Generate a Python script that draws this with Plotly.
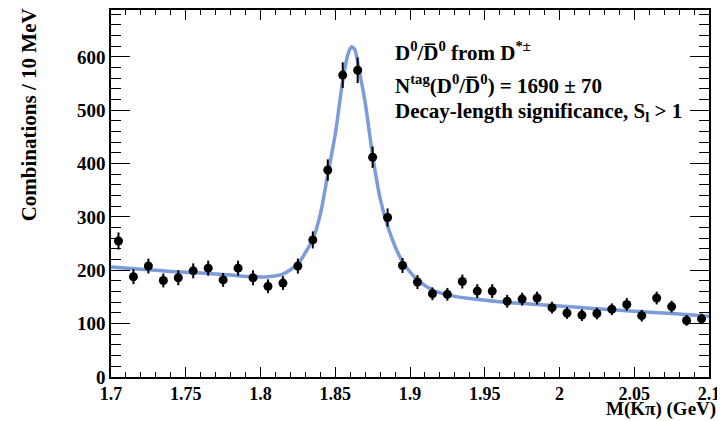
import plotly.graph_objects as go

# Data: bin centres (GeV) and counts per 10 MeV
mass = [1.705, 1.715, 1.725, 1.735, 1.745, 1.755, 1.765, 1.775, 1.785, 1.795,
        1.805, 1.815, 1.825, 1.835, 1.845, 1.855, 1.865, 1.875, 1.885, 1.895,
        1.905, 1.915, 1.925, 1.935, 1.945, 1.955, 1.965, 1.975, 1.985, 1.995,
        2.005, 2.015, 2.025, 2.035, 2.045, 2.055, 2.065, 2.075, 2.085, 2.095]
counts = [255, 188, 208, 181, 186, 199, 204, 182, 204, 186,
          170, 176, 208, 257, 388, 566, 575, 412, 299, 209,
          178, 156, 155, 179, 161, 161, 142, 146, 148, 130,
          120, 116, 119, 127, 136, 115, 148, 132, 106, 109]
errors = [16, 14, 14, 13, 14, 14, 14, 13, 14, 14,
          13, 13, 14, 16, 20, 24, 24, 20, 17, 14,
          13, 12, 12, 13, 13, 13, 12, 12, 12, 11,
          11, 11, 11, 11, 12, 11, 12, 11, 10, 10]

# Fit curve
fit_mass = [1.700, 1.720, 1.740, 1.760, 1.780, 1.795, 1.805, 1.815, 1.825, 1.830,
            1.835, 1.840, 1.845, 1.850, 1.855, 1.8585, 1.861, 1.863, 1.866, 1.870,
            1.875, 1.880, 1.885, 1.890, 1.895, 1.900, 1.905, 1.915, 1.925, 1.940,
            1.960, 1.980, 2.000, 2.020, 2.040, 2.060, 2.080, 2.100]
fit_counts = [206, 202, 198, 195, 191, 188, 188, 193, 212, 233,
              258, 305, 380, 455, 555, 605, 619, 614, 575, 515,
              415, 335, 283, 245, 216, 197, 182, 163, 154, 147,
              141, 137, 133, 129, 125, 121.5, 118, 114]

x_tick_vals = [1.7, 1.75, 1.8, 1.85, 1.9, 1.95, 2.0, 2.05, 2.1]
x_tick_text = ["1.7", "1.75", "1.8", "1.85", "1.9", "1.95", "2", "2.05", "2.1"]
y_tick_vals = [0, 100, 200, 300, 400, 500, 600]

FONT = "Liberation Serif"

fig = go.Figure()
fig.add_trace(go.Scatter(
    x=fit_mass, y=fit_counts, mode="lines",
    line=dict(color="#7b9cd9", width=3.5, shape="spline", smoothing=0.8),
    hoverinfo="skip", showlegend=False))
fig.add_trace(go.Scatter(
    x=mass, y=counts, mode="markers",
    marker=dict(color="black", size=9),
    error_y=dict(type="data", array=errors, color="black", thickness=2, width=0),
    showlegend=False))

axis_common = dict(
    showline=True, linecolor="black", linewidth=1.5, mirror="allticks",
    ticks="inside", tickcolor="black", tickwidth=1.2,
    showgrid=False, zeroline=False,
)

fig.update_xaxes(range=[1.7, 2.1], tickvals=x_tick_vals, ticktext=x_tick_text,
                 ticklen=10,
                 tickfont=dict(family=FONT, size=18, color="black", weight="bold"),
                 minor=dict(ticks="inside", dtick=0.01, ticklen=5, tickcolor="black", tickwidth=1.2),
                 **axis_common)
fig.update_yaxes(range=[0, 688], tickvals=y_tick_vals, ticklen=19,
                 tickfont=dict(family=FONT, size=19, color="black", weight="bold"),
                 minor=dict(ticks="inside", dtick=20, ticklen=10, tickcolor="black", tickwidth=1.2),
                 **axis_common)

txt_font = dict(family=FONT, size=21, color="black", weight="bold")
ann = [
    dict(text="D<sup>0</sup>/D\u0305<sup>0</sup> from D<sup>*\u00b1</sup>",
         x=0.471, y=0.8865, xanchor="left", yanchor="middle"),
    dict(text="N<sup>tag</sup>(D<sup>0</sup>/D\u0305<sup>0</sup>) = 1690 \u00b1 70",
         x=0.471, y=0.797, xanchor="left", yanchor="middle"),
    dict(text="Decay-length significance, S<sub>l</sub> &gt; 1",
         x=0.471, y=0.722, xanchor="left", yanchor="middle"),
]
for a in ann:
    fig.add_annotation(xref="paper", yref="paper", showarrow=False, font=txt_font, **a)

fig.add_annotation(text="Combinations / 10 MeV", xref="paper", yref="paper",
                   x=-0.138, y=1.01, xanchor="center", yanchor="top", textangle=-90,
                   showarrow=False, font=dict(family=FONT, size=21, color="black", weight="bold"))
fig.add_annotation(text="M(K\u03c0) (GeV)", xref="paper", yref="paper",
                   x=1.0134, y=-0.087, xanchor="right", yanchor="middle", borderpad=0,
                   showarrow=False, font=dict(family=FONT, size=19, color="black", weight="bold"))

# page body has an 8px default margin; size the figure so the plot frame lands where the reference has it
fig.update_layout(width=717, height=413,
                  margin=dict(l=103, r=16, t=0, b=44, pad=0),
                  plot_bgcolor="white", paper_bgcolor="white")

fig.write_html("out.html")
